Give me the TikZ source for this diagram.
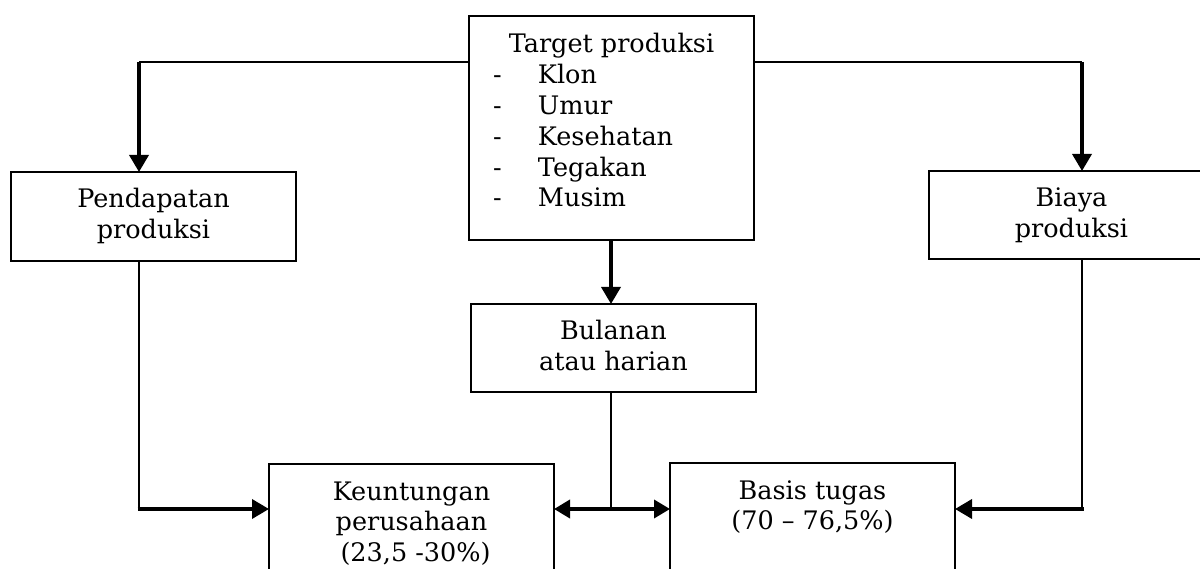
\documentclass[tikz,border=0pt]{standalone}
\usepackage{fontspec}
\setmainfont{DejaVu Serif}
\usetikzlibrary{arrows.meta}
\newcommand\bxfont{\fontsize{25.5}{30.8}\selectfont}
\newcommand\firstline{\rule{0pt}{36pt}}
\begin{document}
\begin{tikzpicture}[x=1pt,y=-1pt,
  boxnode/.style={draw, line width=1.8pt, inner sep=0pt, outer sep=0pt, anchor=north west, font=\bxfont},
  thinln/.style={line width=1.5pt},
  thickarr/.style={line width=3.5pt, -{Triangle[width=19pt,length=17pt]}},
  dblarr/.style={line width=3.5pt, {Triangle[width=18pt,length=16pt]}-{Triangle[width=18pt,length=16pt]}}]
\useasboundingbox (0,0) rectangle (1200,569);
% boxes
\node[boxnode] (tgt) at (469,16) {\parbox[c][224pt][t]{285pt}{\centering\rule{0pt}{37pt}Target produksi\par
  \raggedright
  \hspace*{24pt}\makebox[45pt][l]{-}Klon\\
  \hspace*{24pt}\makebox[45pt][l]{-}Umur\\
  \hspace*{24pt}\makebox[45pt][l]{-}Kesehatan\\
  \hspace*{24pt}\makebox[45pt][l]{-}Tegakan\\
  \hspace*{24pt}\makebox[45pt][l]{-}Musim}};
\node[boxnode] (pend) at (11,172) {\parbox[c][89pt][t]{285pt}{\centering\firstline Pendapatan\\produksi}};
\node[boxnode] (bia) at (929,171) {\parbox[c][88pt][t]{285pt}{\centering\firstline Biaya\\produksi}};
\node[boxnode] (bul) at (471,304) {\parbox[c][88pt][t]{285pt}{\centering\firstline Bulanan\\atau harian}};
\node[boxnode] (keu) at (269,464) {\parbox[c][150pt][t]{285pt}{\centering\firstline Keuntungan\\perusahaan\\\ (23,5 -30\%)}};
\node[boxnode] (bas) at (670,463) {\parbox[c][150pt][t]{285pt}{\centering\firstline Basis tugas\\(70 – 76,5\%)}};
% helper coordinates
\coordinate (tl) at (139,62);
\coordinate (tr) at (1082,62);
\coordinate (bl) at (139,509);
\coordinate (br) at (1082,509);
\coordinate (bm) at (611,509);
\coordinate (tm) at (611,240);
% connectors
\draw[thinln] (tgt.west |- tl) -- (tl);
\draw[thinln] (tgt.east |- tr) -- (tr);
\draw[thickarr] (tl) -- (tl |- pend.north);
\draw[thickarr] (tr) -- (tr |- bia.north);
\draw[thickarr] (tm |- tgt.south) -- (tm |- bul.north);
\draw[thinln] (bl |- pend.south) -- (bl);
\draw[thickarr] ([xshift=-1.5pt]bl) -- (bl -| keu.west);
\draw[thinln] (br |- bia.south) -- (br);
\draw[thickarr] ([xshift=1.5pt]br) -- (br -| bas.east);
\draw[thinln] (bm |- bul.south) -- (bm);
\draw[dblarr] (keu.east |- bm) -- (bas.west |- bm);
\end{tikzpicture}
\end{document}
